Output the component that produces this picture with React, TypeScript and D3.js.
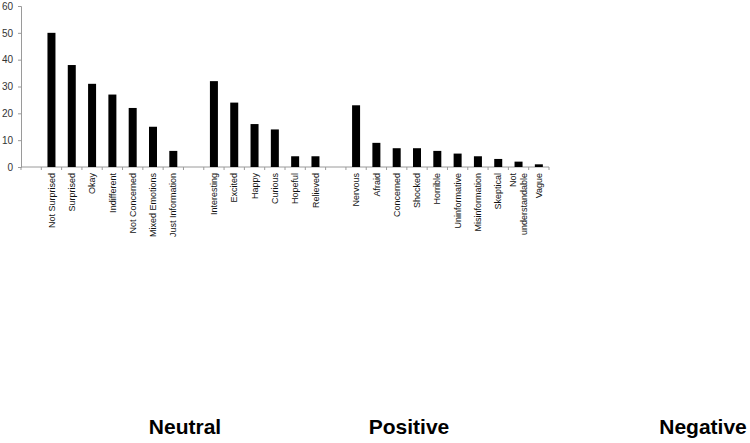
import { useEffect, useRef } from 'react';
import * as d3 from 'd3';

const neutralLabels = ['Not Surprised', 'Surprised', 'Okay', 'Indifferent', 'Not Concerned', 'Mixed Emotions', 'Just Information'];
const neutralValues = [50, 38, 31, 27, 22, 15, 6];
const positiveLabels = ['Interesting', 'Excited', 'Happy', 'Curious', 'Hopeful', 'Relieved'];
const positiveValues = [32, 24, 16, 14, 4, 4];
const negativeLabels = ['Nervous', 'Afraid', 'Concerned', 'Shocked', 'Horrible', 'Uninformative', 'Misinformation', 'Skeptical', 'Not understandable', 'Vague'];
const negativeValues = [23, 9, 7, 7, 6, 5, 4, 3, 2, 1];
const groupNames = ['Neutral', 'Positive', 'Negative'];
const yTicks = [0, 10, 20, 30, 40, 50, 60];

const CHART = {
    width: 750,
    height: 443,
    left: 21,
    right: 549,
    top: 6,
    bottom: 167,
    font: 'Liberation Sans, Arial, sans-serif'
};

export default function App() {
    const svgRef = useRef(null);

    useEffect(() => {
        const svg = d3.select(svgRef.current);
        svg.selectAll('*').remove();

        // one empty slot before each group
        const slots = [];
        const groups = [
            [neutralLabels, neutralValues],
            [positiveLabels, positiveValues],
            [negativeLabels, negativeValues]
        ];
        groups.forEach(([labels, values], gi) => {
            slots.push({ key: 'gap' + gi, label: '', value: null });
            labels.forEach((l, i) => slots.push({ key: l, label: l, value: values[i] }));
        });

        const x = d3.scaleBand().domain(slots.map((d) => d.key)).range([CHART.left, CHART.right]).padding(0);
        const y = d3.scaleLinear().domain([0, 60]).range([CHART.bottom, CHART.top]);
        const barW = 8;

        // axes
        const yAxis = d3.axisLeft(y).tickValues(yTicks).tickSize(3).tickFormat(d3.format('d'));
        const gy = svg.append('g').attr('transform', `translate(${CHART.left},0)`).call(yAxis);
        gy.select('.domain').attr('stroke', '#9a9a9a');
        gy.selectAll('.tick line').attr('stroke', '#9a9a9a');
        gy.selectAll('.tick text')
            .attr('x', -8)
            .attr('font-size', 10)
            .attr('font-family', CHART.font)
            .attr('fill', '#333');

        svg.append('line')
            .attr('x1', CHART.left).attr('x2', CHART.right)
            .attr('y1', CHART.bottom).attr('y2', CHART.bottom)
            .attr('stroke', '#9a9a9a');

        const boundaries = d3.range(slots.length + 1).map((i) => CHART.left + i * x.step());
        svg.append('g').selectAll('line').data(boundaries).enter().append('line')
            .attr('x1', (d) => d).attr('x2', (d) => d)
            .attr('y1', CHART.bottom).attr('y2', CHART.bottom + 3)
            .attr('stroke', '#9a9a9a');

        // bars
        const data = slots.filter((d) => d.value !== null);
        svg.append('g').selectAll('rect').data(data).enter().append('rect')
            .attr('x', (d) => x(d.key) + x.bandwidth() / 2 - barW / 2)
            .attr('y', (d) => y(d.value))
            .attr('width', barW)
            .attr('height', (d) => y(0) - y(d.value))
            .attr('fill', '#000');

        // category labels, rotated
        const lab = svg.append('g').selectAll('g').data(data).enter().append('g')
            .attr('transform', (d) => `translate(${x(d.key) + x.bandwidth() / 2},173) rotate(-90)`);
        lab.each(function (d) {
            const words = d.label === 'Not understandable' ? ['Not', 'understandable'] : [d.label];
            const t = d3.select(this).append('text')
                .attr('text-anchor', 'end')
                .attr('font-size', 9)
                .attr('font-family', CHART.font)
                .attr('fill', '#111');
            words.forEach((w, i) => {
                t.append('tspan')
                    .attr('x', 0)
                    .attr('dy', i === 0 ? (words.length > 1 ? '-0.25em' : '0.35em') : '1.15em')
                    .text(w);
            });
        });

        // group titles
        const titleX = [185, 409, 703];
        svg.append('g').selectAll('text').data(groupNames).enter().append('text')
            .attr('x', (d, i) => titleX[i])
            .attr('y', 434)
            .attr('text-anchor', 'middle')
            .attr('font-size', 21)
            .attr('font-weight', 'bold')
            .attr('font-family', CHART.font)
            .attr('fill', '#000')
            .text((d) => d);
    }, []);

    return (
        <svg ref={svgRef} width={CHART.width} height={CHART.height}
            style={{ position: 'absolute', left: 0, top: 0, background: '#fff' }} />
    );
}
